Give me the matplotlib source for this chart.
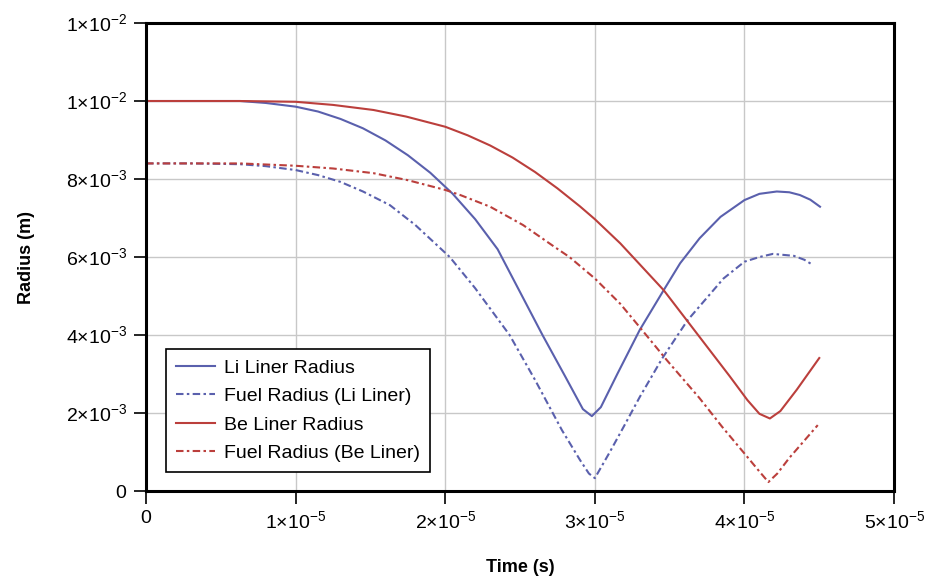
import numpy as np
import matplotlib.pyplot as plt
from matplotlib.ticker import FixedLocator, FixedFormatter

plt.rcParams['font.family'] = ['Liberation Sans', 'DejaVu Sans']
plt.rcParams['mathtext.fontset'] = 'custom'
plt.rcParams['mathtext.rm'] = 'Liberation Sans'

# Li liner radius (time in units of 1e-5 s, radius in units of 1e-3 m)
t_li = np.array([0, 0.3, 0.628, 0.8, 1.0, 1.15, 1.3, 1.45, 1.6, 1.75, 1.9, 2.05, 2.2, 2.35, 2.5,
                 2.65, 2.8, 2.92, 2.98, 3.04, 3.15, 3.3, 3.46, 3.57, 3.70, 3.84, 4.0, 4.1, 4.216,
                 4.3, 4.37, 4.44, 4.505])
r_li = np.array([10.0, 10.0, 10.0, 9.95, 9.855, 9.73, 9.54, 9.30, 8.99, 8.61, 8.16, 7.62, 6.97, 6.20,
                 5.1, 4.0, 2.95, 2.1, 1.92, 2.15, 3.0, 4.13, 5.15, 5.84, 6.48, 7.03, 7.46, 7.62,
                 7.68, 7.66, 7.59, 7.47, 7.29])

# Fuel radius inside the Li liner
t_li_fuel = np.array([0, 0.3, 0.628, 0.8, 1.0, 1.15, 1.297, 1.45, 1.63, 1.8, 2.03, 2.2, 2.43, 2.6,
                      2.78, 2.9, 2.96, 3.0, 3.1, 3.2, 3.3, 3.45, 3.62, 3.86, 4.0, 4.1, 4.19, 4.33,
                      4.4, 4.46])
r_li_fuel = np.array([8.4, 8.4, 8.38, 8.33, 8.23, 8.1, 7.93, 7.68, 7.33, 6.82, 6.0, 5.2, 4.0, 2.85,
                      1.56, 0.8, 0.45, 0.33, 1.0, 1.7, 2.41, 3.4, 4.38, 5.45, 5.88, 6.0, 6.08, 6.03,
                      5.93, 5.79])

# Be liner radius
t_be = np.array([0, 0.628, 1.0, 1.25, 1.52, 1.74, 2.0, 2.15, 2.3, 2.45, 2.6, 2.75, 2.9, 3.0, 3.17,
                 3.46, 3.72, 3.9, 4.02, 4.1, 4.17, 4.24, 4.35, 4.5])
r_be = np.array([10.0, 10.0, 9.98, 9.9, 9.77, 9.6, 9.34, 9.12, 8.86, 8.55, 8.18, 7.76, 7.30, 6.97,
                 6.35, 5.15, 3.85, 2.95, 2.33, 1.98, 1.86, 2.05, 2.6, 3.41])

# Fuel radius inside the Be liner
t_be_fuel = np.array([0, 0.628, 1.0, 1.25, 1.52, 1.75, 2.0, 2.1, 2.3, 2.52, 2.73, 2.83, 3.0, 3.17,
                      3.3, 3.48, 3.7, 3.85, 4.02, 4.1, 4.16, 4.22, 4.3, 4.49])
r_be_fuel = np.array([8.4, 8.4, 8.34, 8.27, 8.15, 7.97, 7.72, 7.59, 7.29, 6.82, 6.26, 6.0, 5.45, 4.8,
                      4.2, 3.36, 2.38, 1.65, 0.87, 0.5, 0.23, 0.45, 0.85, 1.69])

x_ticks = [0, 1e-5, 2e-5, 3e-5, 4e-5, 5e-5]
x_labels = ['0', r'$1{\times}10^{-5}$', r'$2{\times}10^{-5}$', r'$3{\times}10^{-5}$',
            r'$4{\times}10^{-5}$', r'$5{\times}10^{-5}$']
y_ticks = [0, 2e-3, 4e-3, 6e-3, 8e-3, 1e-2, 1.2e-2]
y_labels = ['0', r'$2{\times}10^{-3}$', r'$4{\times}10^{-3}$', r'$6{\times}10^{-3}$',
            r'$8{\times}10^{-3}$', r'$1{\times}10^{-2}$', r'$1{\times}10^{-2}$']

blue = '#5a60ad'
red = '#bb3f3c'
dashdot = (0, (3.6, 1.6, 1.2, 1.6))

fig = plt.figure(figsize=(9.32, 5.84), dpi=100)
ax = fig.add_axes([0.1567, 0.1592, 0.8026, 0.8014])

ax.plot(t_li * 1e-5, r_li * 1e-3, color=blue, lw=1.5, label='Li Liner Radius')
ax.plot(t_li_fuel * 1e-5, r_li_fuel * 1e-3, color=blue, lw=1.5, ls=dashdot,
        label='Fuel Radius (Li Liner)')
ax.plot(t_be * 1e-5, r_be * 1e-3, color=red, lw=1.5, label='Be Liner Radius')
ax.plot(t_be_fuel * 1e-5, r_be_fuel * 1e-3, color=red, lw=1.5, ls=dashdot,
        label='Fuel Radius (Be Liner)')

ax.set_xlim(0, 5e-5)
ax.set_ylim(0, 1.2e-2)
ax.xaxis.set_major_locator(FixedLocator(x_ticks))
ax.xaxis.set_major_formatter(FixedFormatter(x_labels))
ax.yaxis.set_major_locator(FixedLocator(y_ticks))
ax.yaxis.set_major_formatter(FixedFormatter(y_labels))
ax.tick_params(direction='out', length=9, width=1.2, labelsize=14, pad=5)

ax.grid(True, color='#c8c8c8', lw=1.0)
ax.set_axisbelow(True)
for s in ax.spines.values():
    s.set_linewidth(2.2)
    s.set_color('black')

ax.set_xlabel('Time (s)', fontsize=13, fontweight='bold', labelpad=19)
ax.set_ylabel('Radius (m)', fontsize=13, fontweight='bold', labelpad=22)

leg = ax.legend(loc='lower left', bbox_to_anchor=(0.0267, 0.0406), borderaxespad=0,
                fontsize=14, fancybox=False, framealpha=1, edgecolor='black',
                handlelength=2.0, labelspacing=0.56, borderpad=0.5, handletextpad=0.5)
leg.get_frame().set_linewidth(1.2)

fig.savefig('out.png', dpi=100)
